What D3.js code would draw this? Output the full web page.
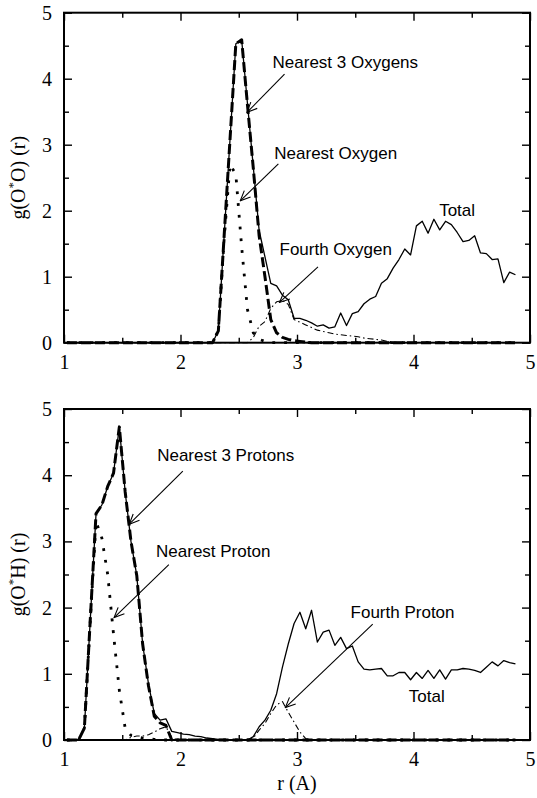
<!DOCTYPE html>
<html>
<head>
<meta charset="utf-8">
<script src="https://cdn.jsdelivr.net/npm/d3@7"></script>
<style>
  body { margin: 0; background: #fff; }
</style>
</head>
<body>
<div id="graphic"></div>
<script>
// histogram bin centres, r in Angstrom
let r = [
  1.025, 1.075, 1.125, 1.175, 1.225, 1.275, 1.325, 1.375, 1.425, 1.475,
  1.525, 1.575, 1.625, 1.675, 1.725, 1.775, 1.825, 1.875, 1.925, 1.975,
  2.025, 2.075, 2.125, 2.175, 2.225, 2.275, 2.325, 2.375, 2.425, 2.475,
  2.525, 2.575, 2.625, 2.675, 2.725, 2.775, 2.825, 2.875, 2.925, 2.975,
  3.025, 3.075, 3.125, 3.175, 3.225, 3.275, 3.325, 3.375, 3.425, 3.475,
  3.525, 3.575, 3.625, 3.675, 3.725, 3.775, 3.825, 3.875, 3.925, 3.975,
  4.025, 4.075, 4.125, 4.175, 4.225, 4.275, 4.325, 4.375, 4.425, 4.475,
  4.525, 4.575, 4.625, 4.675, 4.725, 4.775, 4.825, 4.875
];

// g(O*O) (r)
let ooTotal = [
  0, 0, 0, 0, 0, 0, 0, 0, 0, 0,
  0, 0, 0, 0, 0, 0, 0, 0, 0, 0,
  0, 0, 0, 0, 0, 0, 0.18, 1.63, 3.08, 4.53,
  4.59, 3.62, 2.66, 1.70, 1.30, 0.90, 0.86, 0.72, 0.65, 0.37,
  0.37, 0.34, 0.30, 0.25, 0.27, 0.22, 0.24, 0.45, 0.26, 0.44,
  0.47, 0.59, 0.66, 0.70, 0.90, 0.97, 1.13, 1.26, 1.42, 1.33,
  1.77, 1.84, 1.66, 1.87, 1.71, 1.84, 1.79, 1.67, 1.53, 1.55,
  1.62, 1.36, 1.35, 1.26, 1.27, 0.91, 1.07, 1.03
];
let ooNearest3 = [
  0, 0, 0, 0, 0, 0, 0, 0, 0, 0,
  0, 0, 0, 0, 0, 0, 0, 0, 0, 0,
  0, 0, 0, 0, 0, 0, 0.18, 1.63, 3.08, 4.53,
  4.59, 3.60, 2.64, 1.62, 1.00, 0.35, 0.15, 0.08, 0.05, 0.03,
  0.02, 0.01, 0, 0, 0, 0, 0, 0, 0, 0,
  0, 0, 0, 0, 0, 0, 0, 0, 0, 0,
  0, 0, 0, 0, 0, 0, 0, 0, 0, 0,
  0, 0, 0, 0, 0, 0, 0, 0
];
let ooNearest = [
  0, 0, 0, 0, 0, 0, 0, 0, 0, 0,
  0, 0, 0, 0, 0, 0, 0, 0, 0, 0,
  0, 0, 0, 0, 0, 0, 0.18, 1.58, 2.70, 2.55,
  1.45, 0.50, 0.15, 0.05, 0.02, 0, 0, 0, 0, 0,
  0, 0, 0, 0, 0, 0, 0, 0, 0, 0,
  0, 0, 0, 0, 0, 0, 0, 0, 0, 0,
  0, 0, 0, 0, 0, 0, 0, 0, 0, 0,
  0, 0, 0, 0, 0, 0, 0, 0
];
let ooFourth = [
  0, 0, 0, 0, 0, 0, 0, 0, 0, 0,
  0, 0, 0, 0, 0, 0, 0, 0, 0, 0,
  0, 0, 0, 0, 0, 0, 0, 0, 0, 0,
  0, 0, 0.08, 0.25, 0.32, 0.52, 0.62, 0.64, 0.58, 0.35,
  0.31, 0.27, 0.23, 0.19, 0.17, 0.15, 0.13, 0.12, 0.11, 0.10,
  0.09, 0.07, 0.06, 0.05, 0.04, 0.02, 0.01, 0, 0, 0,
  0, 0, 0, 0, 0, 0, 0, 0, 0, 0,
  0, 0, 0, 0, 0, 0, 0, 0
];

// g(O*H) (r)
let ohTotal = [
  0, 0, 0, 0.18, 1.80, 3.42, 3.55, 3.83, 4.03, 4.73,
  3.75, 3.00, 2.48, 1.45, 0.85, 0.40, 0.30, 0.32, 0.13, 0.11,
  0.09, 0.08, 0.06, 0.05, 0.03, 0.02, 0.01, 0.01, 0, 0,
  0, 0, 0.05, 0.20, 0.30, 0.45, 0.70, 1.10, 1.45, 1.76,
  1.93, 1.68, 1.96, 1.48, 1.63, 1.66, 1.43, 1.55, 1.38, 1.42,
  1.18, 1.07, 1.06, 1.07, 1.08, 0.97, 0.97, 1.02, 1.02, 0.91,
  1.02, 0.93, 1.05, 0.93, 1.06, 0.92, 1.06, 1.06, 1.08, 1.07,
  1.05, 1.02, 1.10, 1.18, 1.12, 1.20, 1.17, 1.15
];
let ohNearest3 = [
  0, 0, 0, 0.18, 1.80, 3.42, 3.55, 3.83, 4.03, 4.73,
  3.75, 3.00, 2.48, 1.45, 0.82, 0.36, 0.26, 0.22, 0, 0,
  0, 0, 0, 0, 0, 0, 0, 0, 0, 0,
  0, 0, 0, 0, 0, 0, 0, 0, 0, 0,
  0, 0, 0, 0, 0, 0, 0, 0, 0, 0,
  0, 0, 0, 0, 0, 0, 0, 0, 0, 0,
  0, 0, 0, 0, 0, 0, 0, 0, 0, 0,
  0, 0, 0, 0, 0, 0, 0, 0
];
let ohNearest = [
  0, 0, 0, 0.18, 1.78, 3.30, 3.05, 2.50, 1.60, 0.75,
  0.18, 0.07, 0.05, 0.03, 0.02, 0.01, 0, 0, 0, 0,
  0, 0, 0, 0, 0, 0, 0, 0, 0, 0,
  0, 0, 0, 0, 0, 0, 0, 0, 0, 0,
  0, 0, 0, 0, 0, 0, 0, 0, 0, 0,
  0, 0, 0, 0, 0, 0, 0, 0, 0, 0,
  0, 0, 0, 0, 0, 0, 0, 0, 0, 0,
  0, 0, 0, 0, 0, 0, 0, 0
];
let ohFourth = [
  0, 0, 0, 0, 0, 0, 0, 0, 0, 0,
  0, 0.04, 0.06, 0.06, 0.08, 0.12, 0.17, 0.20, 0.04, 0,
  0, 0, 0, 0, 0, 0, 0, 0, 0, 0,
  0, 0, 0.03, 0.15, 0.25, 0.40, 0.53, 0.58, 0.42, 0.27,
  0.12, 0.02, 0, 0, 0, 0, 0, 0, 0, 0,
  0, 0, 0, 0, 0, 0, 0, 0, 0, 0,
  0, 0, 0, 0, 0, 0, 0, 0, 0, 0,
  0, 0, 0, 0, 0, 0, 0, 0
];

let xTicks = [1, 2, 3, 4, 5];
let xMinor = [1.5, 2.5, 3.5, 4.5];
let yTicks = [0, 1, 2, 3, 4, 5];
let yMinor = [0.5, 1.5, 2.5, 3.5, 4.5];

let width = 537, height = 798;
let serif = "'Liberation Serif', 'Times New Roman', serif";
let sans = "'Liberation Sans', Arial, sans-serif";

let svg = d3.select('#graphic')
  .append('svg')
    .attr('width', width)
    .attr('height', height);

// open "V" arrow head
svg.append('defs').append('marker')
    .attr('id', 'arr')
    .attr('viewBox', '-11 -6 12 12')
    .attr('refX', 0).attr('refY', 0)
    .attr('markerWidth', 12).attr('markerHeight', 12)
    .attr('markerUnits', 'userSpaceOnUse')
    .attr('orient', 'auto')
  .append('path')
    .attr('d', 'M-10,-4.5L0,0L-10,4.5')
    .attr('fill', 'none')
    .attr('stroke', '#000')
    .attr('stroke-width', 1.1);

let x = d3.scaleLinear().domain([1, 5]).range([64, 530]);

let styles = {
  total:    {w: 1.3, dash: null},
  nearest3: {w: 3,   dash: '10,4'},
  nearest:  {w: 2.8, dash: '2.8,9'},
  fourth:   {w: 1.1, dash: '6,3,1.5,3'}
};

function drawPanel(top, bottom, series, notes, who) {
  let y = d3.scaleLinear().domain([0, 5]).range([bottom, top]);
  let g = svg.append('g');

  // ticks on all four sides, pointing inward
  function ax(axis, pos, vals, len, labels) {
    let a = g.append('g')
      .attr('transform', pos)
      .call(axis.tickValues(vals).tickSize(-len).tickPadding(12)
        .tickFormat(labels ? d3.format('d') : ''));
    a.select('.domain').remove();
    a.selectAll('line').attr('stroke-width', 1.4);
    a.selectAll('text')
      .style('font-family', serif)
      .style('font-size', '20px')
      .attr('fill', '#000');
  }
  ax(d3.axisBottom(x), `translate(0,${bottom})`, xTicks, 8, true);
  ax(d3.axisBottom(x), `translate(0,${bottom})`, xMinor, 5, false);
  ax(d3.axisTop(x), `translate(0,${top})`, xTicks, 8, false);
  ax(d3.axisTop(x), `translate(0,${top})`, xMinor, 5, false);
  ax(d3.axisLeft(y), `translate(${x(1)},0)`, yTicks, 8, true);
  ax(d3.axisLeft(y), `translate(${x(1)},0)`, yMinor, 5, false);
  ax(d3.axisRight(y), `translate(${x(5)},0)`, yTicks, 8, false);
  ax(d3.axisRight(y), `translate(${x(5)},0)`, yMinor, 5, false);

  // curves
  let line = d3.line()
    .x((d, i) => x(r[i]))
    .y(d => y(d));
  series.forEach(s => {
    g.append('path')
      .datum(s.values)
      .attr('d', line)
      .attr('fill', 'none')
      .attr('stroke', '#000')
      .attr('stroke-width', styles[s.kind].w)
      .attr('stroke-dasharray', styles[s.kind].dash)
      .attr('stroke-linejoin', 'round');
  });

  // frame
  g.append('rect')
    .attr('x', x(1)).attr('y', top)
    .attr('width', x(5) - x(1)).attr('height', bottom - top)
    .attr('fill', 'none')
    .attr('stroke', '#000')
    .attr('stroke-width', 2);

  // annotations
  notes.forEach(n => {
    g.append('text')
      .attr('x', x(n.tx)).attr('y', y(n.ty))
      .style('font-family', sans)
      .style('font-size', '17px')
      .text(n.text);
    if (n.from) {
      g.append('line')
        .attr('x1', x(n.from[0])).attr('y1', y(n.from[1]))
        .attr('x2', x(n.to[0])).attr('y2', y(n.to[1]))
        .attr('stroke', '#000')
        .attr('stroke-width', 1.1)
        .attr('marker-end', 'url(#arr)');
    }
  });

  // y label g(O*X) (r)
  let cy = (top + bottom) / 2;
  let t = g.append('text')
    .attr('transform', `translate(25,${cy}) rotate(-90)`)
    .attr('text-anchor', 'middle')
    .style('font-family', serif)
    .style('font-size', '20px');
  t.append('tspan').text('g(O');
  t.append('tspan').attr('dy', -8).style('font-size', '13px').text('*');
  t.append('tspan').attr('dy', 8).text(who + ') (r)');
}

drawPanel(12.7, 342.7,
  [
    {kind: 'total', values: ooTotal},
    {kind: 'nearest3', values: ooNearest3},
    {kind: 'nearest', values: ooNearest},
    {kind: 'fourth', values: ooFourth}
  ],
  [
    {text: 'Nearest 3 Oxygens', tx: 2.79, ty: 4.16, from: [2.893, 4.07], to: [2.571, 3.49]},
    {text: 'Nearest Oxygen', tx: 2.805, ty: 2.78, from: [2.84, 2.71], to: [2.513, 2.15]},
    {text: 'Fourth Oxygen', tx: 2.85, ty: 1.33, from: [3.18, 1.15], to: [2.85, 0.61]},
    {text: 'Total', tx: 4.22, ty: 1.92}
  ], 'O');

drawPanel(409, 740,
  [
    {kind: 'total', values: ohTotal},
    {kind: 'nearest3', values: ohNearest3},
    {kind: 'nearest', values: ohNearest},
    {kind: 'fourth', values: ohFourth}
  ],
  [
    {text: 'Nearest 3 Protons', tx: 1.80, ty: 4.22, from: [2.02, 4.06], to: [1.56, 3.26]},
    {text: 'Nearest Proton', tx: 1.79, ty: 2.76, from: [1.90, 2.65], to: [1.43, 1.85]},
    {text: 'Fourth Proton', tx: 3.46, ty: 1.84, from: [3.65, 1.75], to: [2.90, 0.49]},
    {text: 'Total', tx: 3.96, ty: 0.58}
  ], 'H');

// x label
svg.append('text')
  .attr('x', x(3)).attr('y', 790)
  .attr('text-anchor', 'middle')
  .style('font-family', serif)
  .style('font-size', '20px')
  .text('r (A)');
</script>
</body>
</html>
